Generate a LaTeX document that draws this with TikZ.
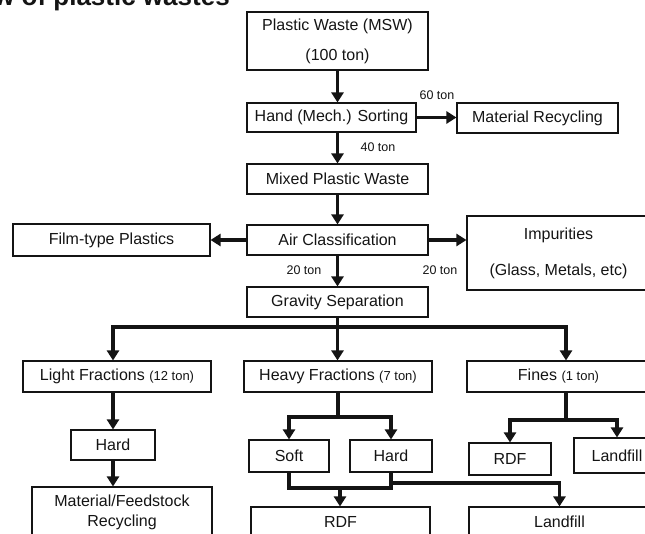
\documentclass[tikz,border=0pt]{standalone}
\usepackage{fontspec}
\setmainfont{Liberation Sans}
\usetikzlibrary{arrows.meta}
\definecolor{inkblack}{RGB}{20,20,20}

\begin{document}
\begin{tikzpicture}[x=1pt, y=-1pt,
  box/.style={draw=inkblack, text=inkblack, line width=1.1pt, inner sep=1pt, align=center, font=\fontsize{16}{19}\selectfont},
  flow/.style={draw=inkblack, line width=3.4pt, -{Triangle[width=12pt,length=10pt]}},
  link/.style={draw=inkblack, line width=3.4pt},
  tonlabel/.style={text=inkblack, inner sep=0pt, font=\fontsize{12.5}{14}\selectfont}]
\useasboundingbox (0,0) rectangle (645,534);
\clip (0,0) rectangle (645,534);

% Heading (cut at the top)
\node[anchor=base west, inner sep=0pt, text=inkblack, font=\bfseries\fontsize{26}{26}\selectfont] (title) at (-6,6) {w of plastic wastes};

% Main line
\node[box, minimum width=181pt, minimum height=58pt, font=\fontsize{16}{30}\selectfont] (pw) at (337.5,41) {Plastic Waste (MSW)\\(100 ton)};
\node[box, minimum width=169pt, minimum height=29pt] (hs) at (331.5,117.5) {Hand (Mech.) Sorting};
\node[box, minimum width=161pt, minimum height=30pt] (mr) at (537.5,118) {Material Recycling};
\node[box, minimum width=181pt, minimum height=30pt] (mpw) at (337.5,179) {Mixed Plastic Waste};
\node[box, minimum width=181pt, minimum height=30pt] (ac) at (337.5,240) {Air Classification};
\node[box, minimum width=197pt, minimum height=32pt] (ftp) at (111.5,240) {Film-type Plastics};
\node[box, minimum width=183pt, minimum height=74pt, font=\fontsize{16}{36}\selectfont] (imp) at (558.5,253) {Impurities\\(Glass, Metals, etc)};
\node[box, minimum width=181pt, minimum height=30pt] (gs) at (337.5,302) {Gravity Separation};

% Tonnages
\node[tonlabel] (t60) at (437,95) {60 ton};
\node[tonlabel] (t40) at (378,147) {40 ton};
\node[tonlabel] (t20a) at (304,270) {20 ton};
\node[tonlabel] (t20b) at (440,270) {20 ton};

% Fractions
\node[box, minimum width=188pt, minimum height=31pt] (lf) at (117,376.5) {Light Fractions {\fontsize{13}{15}\selectfont(12 ton)}};
\node[box, minimum width=188pt, minimum height=31pt] (hf) at (338,376.5) {Heavy Fractions {\fontsize{13}{15}\selectfont(7 ton)}};
\node[box, minimum width=183pt, minimum height=31pt] (fi) at (558.5,376.5) {Fines {\fontsize{13}{15}\selectfont(1 ton)}};

\node[box, minimum width=84pt, minimum height=30pt] (lh) at (113,445) {Hard};
\node[box, minimum width=180pt, minimum height=50pt, font=\fontsize{16}{20}\selectfont] (mfr) at (122,512) {Material/Feedstock\\Recycling};

\node[box, minimum width=80pt, minimum height=32pt] (soft) at (289,456) {Soft};
\node[box, minimum width=82pt, minimum height=32pt] (hh) at (391,456) {Hard};
\node[box, minimum width=179pt, minimum height=30pt] (rdf) at (340.5,522) {RDF};
\node[box, minimum width=181pt, minimum height=30pt] (lfb) at (559.5,522) {Landfill};

\node[box, minimum width=82pt, minimum height=32pt] (frdf) at (510,459) {RDF};
\node[box, minimum width=86pt, minimum height=35pt] (flf) at (617,455.5) {Landfill};

% Arrows, top part
\draw[flow] (pw.south) -- (pw.south |- hs.north);
\draw[flow] (hs.east) -- (hs.east -| mr.west);
\draw[flow] (hs.south -| mpw) -- (mpw.north);
\draw[flow] (mpw) -- (ac);
\draw[flow] (ac) -- (ftp);
\draw[flow] (ac.east) -- (ac.east -| imp.west);
\draw[flow] (ac) -- (gs);

% Gravity split
\coordinate (split) at (337.5,327);
\coordinate (lsplit) at (113,327);
\coordinate (fsplit) at (566,327);
\draw[link] (gs.south) -- (split);
\draw[flow] (split) -- (lsplit) -- (lsplit |- lf.north);
\draw[flow] (split) -- (fsplit) -- (fsplit |- fi.north);
\draw[flow] (split) -- (split |- hf.north);

% Light fractions
\draw[flow] (lf.south -| lh) -- (lh.north);
\draw[flow] (lh.south) -- (lh.south |- mfr.north);

% Heavy fractions
\coordinate (hsplit) at (338,417);
\draw[link] (hf.south) -- (hsplit);
\draw[flow] (hsplit) -| (soft.north);
\draw[flow] (hsplit) -| (hh.north);
\coordinate (hjoin) at (340,488);
\coordinate (lbranch) at (391,483);
\draw[link] (soft.south) |- (hjoin) -| (hh.south);
\draw[flow] (hjoin) -- (hjoin |- rdf.north);
\draw[flow] (lbranch) -| (lfb.north);

% Fines
\coordinate (fbranch) at (566,420);
\draw[link] (fi.south -| fbranch) -- (fbranch);
\draw[flow] (fbranch) -| (frdf.north);
\draw[flow] (fbranch) -| (flf.north);
\end{tikzpicture}
\end{document}
